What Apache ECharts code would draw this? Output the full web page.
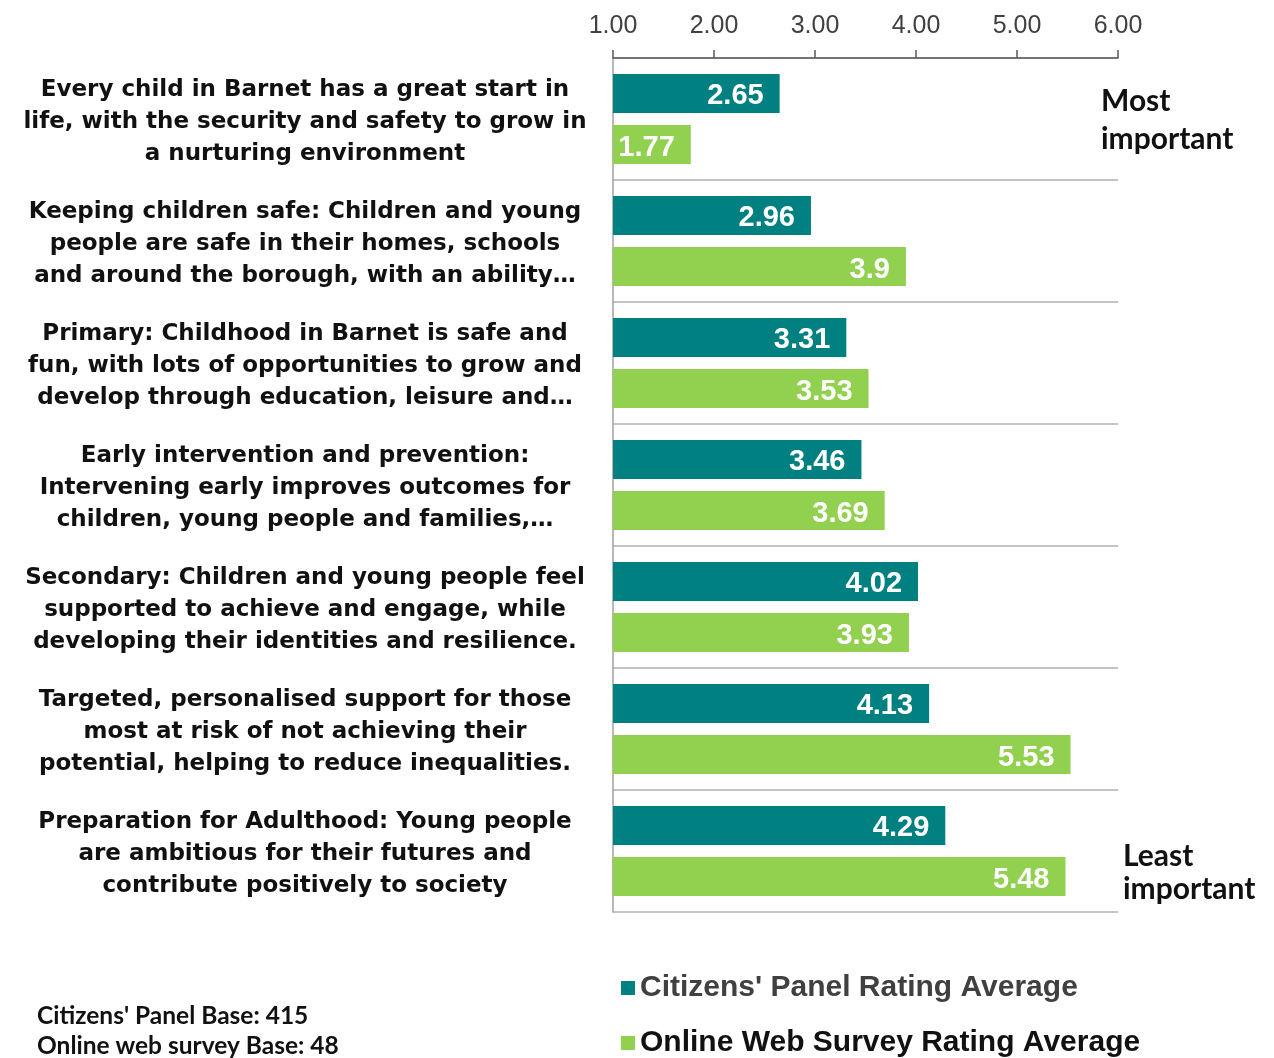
<!DOCTYPE html>
<html><head><meta charset="utf-8">
<script src="https://cdn.jsdelivr.net/npm/echarts@6/dist/echarts.min.js"></script>
<style>html,body{margin:0;padding:0;background:#fff}#c{width:1274px;height:1058px}</style>
</head><body><div id="c"></div>
<script>
var categories = [
  "Every child in Barnet has a great start in\nlife, with the security and safety to grow in\na nurturing environment",
  "Keeping children safe: Children and young\npeople are safe in their homes, schools\nand around the borough, with an ability…",
  "Primary: Childhood in Barnet is safe and\nfun, with lots of opportunities to grow and\ndevelop through education, leisure and…",
  "Early intervention and prevention:\nIntervening early improves outcomes for\nchildren, young people and families,…",
  "Secondary: Children and young people feel\nsupported to achieve and engage, while\ndeveloping their identities and resilience.",
  "Targeted, personalised support for those\nmost at risk of not achieving their\npotential, helping to reduce inequalities.",
  "Preparation for Adulthood: Young people\nare ambitious for their futures and\ncontribute positively to society"
];
var citizensPanel = [2.65, 2.96, 3.31, 3.46, 4.02, 4.13, 4.29];
var onlineSurvey = [1.77, 3.9, 3.53, 3.69, 3.93, 5.53, 5.48];
var seriesNames = ["Citizens' Panel Rating Average", "Online Web Survey Rating Average"];
var baseNotes = ["Citizens' Panel Base: 415", "Online web survey Base: 48"];

var chart = echarts.init(document.getElementById('c'));
var labelStyle = {
  show: true, position: 'insideRight', distance: 16, color: '#fff',
  fontFamily: 'Liberation Sans', fontWeight: 'bold', fontSize: 29,
  offset: [0, 3]
};
function legendFor(name, top, color) {
  return {
    orient: 'horizontal', left: 621, top: top, padding: 0, itemWidth: 14, itemHeight: 14,
    icon: 'rect',
    textStyle: { fontFamily: 'Liberation Sans', fontWeight: 'bold', fontSize: 30, color: color },
    data: [name]
  };
}
chart.setOption({
  animation: false,
  backgroundColor: '#fff',
  grid: { left: 613, right: 156, top: 58, bottom: 146 },
  xAxis: {
    type: 'value', position: 'top', min: 1, max: 6, interval: 1,
    axisLine: { show: true, lineStyle: { color: '#5a5a5a', width: 1.5 } },
    axisTick: { show: true, length: 8, lineStyle: { color: '#5a5a5a', width: 1.5 } },
    axisLabel: { formatter: function (v) { return v.toFixed(2); }, fontFamily: 'Liberation Sans', fontSize: 25, color: '#404040', margin: 19 },
    splitLine: { show: false }
  },
  yAxis: {
    type: 'category', inverse: true, data: categories,
    axisLine: { show: true, lineStyle: { color: '#a0a0a0', width: 1.5 } },
    axisTick: { show: false },
    splitLine: { show: true, lineStyle: { color: '#b0b0b0', width: 1.5 } },
    axisLabel: {
      align: 'center', margin: 308, color: '#111',
      formatter: function (v) {
        return '{s| }\n' + v.split('\n').map(function (l) { return '{a|' + l + '}'; }).join('\n');
      },
      rich: {
        s: { fontSize: 1, lineHeight: 7 },
        a: { fontFamily: 'DejaVu Sans', fontWeight: 'bold', fontSize: 23, lineHeight: 32, color: '#111', align: 'center' }
      }
    }
  },
  legend: [
    legendFor(seriesNames[0], 973, '#404040'),
    legendFor(seriesNames[1], 1028, '#111')
  ],
  series: [
    { name: seriesNames[0], type: 'bar', data: citizensPanel, barWidth: 39, barGap: '31%',
      itemStyle: { color: '#008080' }, label: labelStyle },
    { name: seriesNames[1], type: 'bar', data: onlineSurvey, barWidth: 39, barGap: '31%',
      itemStyle: { color: '#92D050' }, label: labelStyle }
  ],
  graphic: [
    { type: 'text', left: 1101, top: 82, style: { text: 'Most\nimportant', fontFamily: 'Lato', fontWeight: 'bold', fontSize: 30, lineHeight: 38, fill: '#111' } },
    { type: 'text', left: 1123, top: 840, style: { text: 'Least\nimportant', fontFamily: 'Lato', fontWeight: 'bold', fontSize: 30, lineHeight: 33, fill: '#111' } },
    { type: 'text', left: 37, top: 1001, style: { text: baseNotes.join('\n'), fontFamily: 'Lato', fontWeight: 'bold', fontSize: 24.5, lineHeight: 30, fill: '#111' } }
  ]
});
</script></body></html>
